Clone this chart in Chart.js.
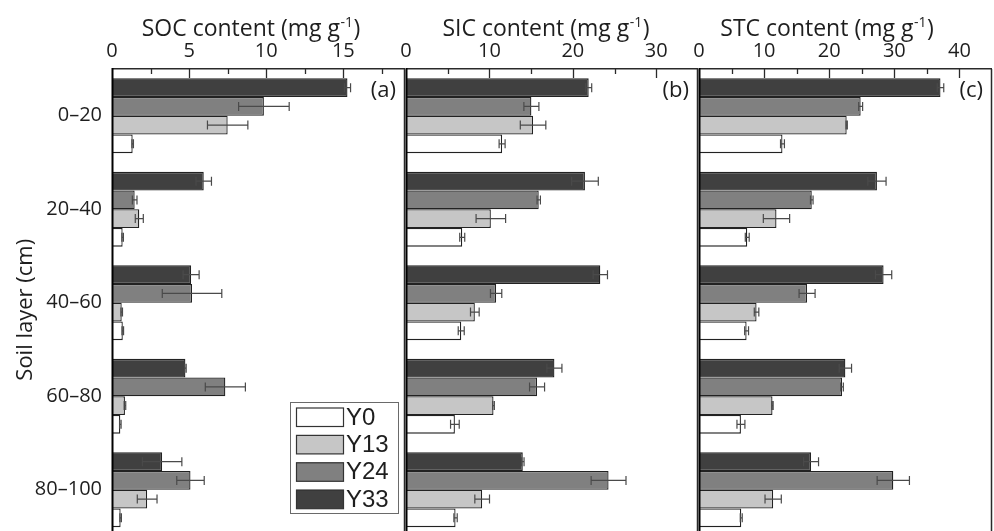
<!DOCTYPE html>
<html><head><meta charset="utf-8">
<script src="https://cdn.jsdelivr.net/npm/chart.js@4.4.1/dist/chart.umd.min.js"></script>
<style>
html,body{margin:0;padding:0;background:#fff;overflow:hidden;}
#wrap{position:relative;width:994px;height:531px;overflow:hidden;background:#fff;}
#wrap canvas{position:absolute;left:0;top:0;}
</style></head><body>
<div id="wrap">
<canvas id="ca" width="994" height="545"></canvas>
<canvas id="cb" width="994" height="545"></canvas>
<canvas id="cc" width="994" height="545"></canvas>
</div>
<script>
// ---- data ----
const layers = ['0–20','20–40','40–60','60–80','80–100'];
const seriesNames = ['Y0','Y13','Y24','Y33'];

const socY0  = [1.34, 0.69, 0.70, 0.54, 0.56];
const socY13 = [7.50, 1.77, 0.63, 0.84, 2.28];
const socY24 = [9.85, 1.47, 5.19, 7.35, 5.09];
const socY33 = [15.27, 5.95, 5.13, 4.76, 3.25];
const socErrY0  = [0.05, 0.05, 0.05, 0.05, 0.05];
const socErrY13 = [1.31, 0.26, 0.05, 0.05, 0.64];
const socErrY24 = [1.64, 0.15, 1.93, 1.30, 0.89];
const socErrY33 = [0.20, 0.50, 0.52, 0.05, 1.28];

const sicY0  = [11.52, 6.74, 6.62, 5.86, 5.94];
const sicY13 = [15.23, 10.17, 8.25, 10.49, 9.13];
const sicY24 = [15.03, 15.91, 10.80, 15.71, 24.28];
const sicY33 = [21.90, 21.45, 23.29, 17.79, 14.00];
const sicErrY0  = [0.36, 0.30, 0.36, 0.52, 0.20];
const sicErrY13 = [1.53, 1.77, 0.52, 0.10, 0.88];
const sicErrY24 = [0.90, 0.20, 0.68, 0.90, 2.09];
const sicErrY33 = [0.36, 1.60, 0.86, 0.90, 0.15];

const stcY0  = [12.82, 7.41, 7.31, 6.44, 6.49];
const stcY13 = [22.68, 11.90, 8.84, 11.29, 11.39];
const stcY24 = [24.83, 17.32, 16.60, 21.97, 29.84];
const stcY33 = [37.09, 27.33, 28.35, 22.48, 17.21];
const stcErrY0  = [0.30, 0.30, 0.30, 0.61, 0.15];
const stcErrY13 = [0.10, 2.02, 0.35, 0.10, 1.25];
const stcErrY24 = [0.30, 0.20, 1.23, 0.20, 2.48];
const stcErrY33 = [0.50, 1.40, 1.25, 0.95, 1.15];

const axisMax = [19, 35, 45];
const axisStep = [5, 10, 10];
const titleMain = ['SOC content (mg g', 'SIC content (mg g', 'STC content (mg g'];
const titleSup = '-1';
const titleTail = ')';
const panelTags = ['(a)', '(b)', '(c)'];
const yTitle = 'Soil layer (cm)';

// ---- style ----
const fills = ['#ffffff', '#c6c6c6', '#808080', '#404040'];
const TXT = '#1e1e1e';
const FONT = "'Open Sans', 'Noto Sans', sans-serif";
Chart.defaults.font.family = FONT;
Chart.defaults.color = TXT;

const framePlugin = {
  id: 'frame',
  afterDatasetsDraw(chart) {
    const ctx = chart.ctx, xs = chart.scales.x;
    chart.data.datasets.forEach((d, di) => {
      const meta = chart.getDatasetMeta(di);
      meta.data.forEach((bar, i) => {
        const v = d.data[i], e = d.err[i];
        const x1 = xs.getPixelForValue(v - e), x2 = xs.getPixelForValue(v + e), y = bar.y;
        ctx.save();
        ctx.strokeStyle = '#4a4a4a'; ctx.lineWidth = 1.2;
        ctx.beginPath();
        ctx.moveTo(x1, y); ctx.lineTo(x2, y);
        ctx.moveTo(x1, y - 4.5); ctx.lineTo(x1, y + 4.5);
        ctx.moveTo(x2, y - 4.5); ctx.lineTo(x2, y + 4.5);
        ctx.stroke();
        ctx.restore();
      });
    });
  },
  afterDraw(chart, args, o) {
    const ctx = chart.ctx, a = chart.chartArea, xs = chart.scales.x;
    ctx.save();
    // frame
    ctx.strokeStyle = '#2a2a2a'; ctx.lineWidth = 1.5;
    ctx.beginPath(); ctx.moveTo(a.left, a.top - 0.25); ctx.lineTo(a.right, a.top - 0.25); ctx.stroke();
    ctx.beginPath(); ctx.moveTo(a.right - 0.5, a.top); ctx.lineTo(a.right - 0.5, a.bottom + 20); ctx.stroke();
    ctx.strokeStyle = '#000'; ctx.lineWidth = 2;
    ctx.beginPath(); ctx.moveTo(a.left + 0.5, a.top - 1); ctx.lineTo(a.left + 0.5, a.bottom + 20); ctx.stroke();
    // inward ticks
    ctx.strokeStyle = '#2a2a2a'; ctx.lineWidth = 1.3;
    const majors = xs.ticks.map(t => t.value);
    majors.forEach((v, k) => {
      const px = Math.round(xs.getPixelForValue(v)) + 0.5;
      if (v > 0) { ctx.beginPath(); ctx.moveTo(px, a.top); ctx.lineTo(px, a.top + 9); ctx.stroke(); }
      const m = v + o.step / 2;
      if (m < xs.max - 1e-6) {
        const pm = Math.round(xs.getPixelForValue(m)) + 0.5;
        ctx.beginPath(); ctx.moveTo(pm, a.top); ctx.lineTo(pm, a.top + 5); ctx.stroke();
      }
    });
    // title with superscript
    ctx.fillStyle = TXT;
    ctx.textBaseline = 'alphabetic';
    ctx.textAlign = 'left';
    const mainF = "23px " + FONT, supF = "14px " + FONT;
    ctx.font = mainF; const w1 = ctx.measureText(o.main).width, w3 = ctx.measureText(titleTail).width;
    ctx.font = supF; const w2 = ctx.measureText(titleSup).width;
    const total = w1 + w2 + w3 + 1;
    let x = (a.left + a.right) / 2 + o.titleShift - total / 2;
    const base = 36;
    ctx.font = mainF; ctx.fillText(o.main, x, base); x += w1 + 0.5;
    ctx.font = supF; ctx.fillText(titleSup, x, base - 9); x += w2 + 0.5;
    ctx.font = mainF; ctx.fillText(titleTail, x, base);
    // panel tag
    ctx.font = "22px " + FONT; ctx.textAlign = 'right'; ctx.textBaseline = 'middle';
    ctx.fillText(o.tag, a.right - 9, a.top + 22);
    // y axis title (first panel only)
    if (o.yTitle) {
      ctx.save();
      ctx.translate(26, (a.top + a.bottom) / 2 + 7);
      ctx.rotate(-Math.PI / 2);
      ctx.font = "22px " + FONT; ctx.textAlign = 'center'; ctx.textBaseline = 'middle';
      ctx.fillStyle = TXT;
      ctx.fillText(o.yTitle, 0, 0);
      ctx.restore();
    }
    // legend
    if (o.legend) {
      const L = o.legend;
      ctx.strokeStyle = '#6a6a6a'; ctx.lineWidth = 1;
      ctx.fillStyle = '#fff';
      ctx.fillRect(L.x, L.y, L.w, L.h);
      ctx.strokeRect(L.x + 0.5, L.y + 0.5, L.w, L.h);
      const items = chart.data.datasets.slice().reverse();
      ctx.font = "24px 'Liberation Sans', Arial, sans-serif";
      ctx.textAlign = 'left'; ctx.textBaseline = 'middle';
      items.forEach((d, k) => {
        const sy = L.y + 5.5 + k * 27.4;
        ctx.fillStyle = d.backgroundColor;
        ctx.fillRect(L.x + 6, sy, 48, 19);
        ctx.strokeStyle = '#333'; ctx.lineWidth = 1.2;
        ctx.strokeRect(L.x + 6.5, sy + 0.5, 47, 18.5);
        ctx.fillStyle = TXT;
        ctx.fillText(d.label, L.x + 56, sy + 10.5);
      });
    }
    ctx.restore();
  }
};

function makeChart(id, k, vals, errs, padL, padR, isFirst, extra) {
  const order = [3, 2, 1, 0];
  const datasets = order.map(i => ({
    label: seriesNames[i],
    data: vals[i],
    err: errs[i],
    backgroundColor: fills[i],
    borderColor: '#222222',
    borderWidth: 1.3,
    categoryPercentage: 0.8,
    barPercentage: 1.0
  }));
  return new Chart(document.getElementById(id), {
    type: 'bar',
    data: { labels: layers, datasets },
    plugins: [framePlugin],
    options: {
      indexAxis: 'y',
      responsive: false,
      animation: false,
      layout: { padding: { left: padL, right: padR, top: 0, bottom: 8.5 } },
      scales: {
        x: {
          type: 'linear', position: 'top', min: 0, max: axisMax[k],
          grid: { display: false, drawTicks: false },
          border: { display: false },
          ticks: { stepSize: axisStep[k], includeBounds: false, font: { size: 20 }, color: TXT, padding: 6, maxRotation: 0 },
          afterFit(s) { s.height = 69; s.paddingLeft = 0; s.paddingRight = 0; }
        },
        y: {
          display: isFirst,
          grid: { display: false, drawTicks: false },
          border: { display: false },
          ticks: { font: { size: 20 }, color: TXT, padding: 10 },
          title: { display: false, text: yTitle },
          afterFit(s) { s.width = isFirst ? 112 : 0; s.paddingTop = 0; s.paddingBottom = 0; }
        }
      },
      plugins: {
        legend: { display: false },
        tooltip: { enabled: false },
        frame: Object.assign({ step: axisStep[k], main: titleMain[k], tag: panelTags[k] }, extra)
      }
    }
  });
}

makeChart('ca', 0, [socY0, socY13, socY24, socY33], [socErrY0, socErrY13, socErrY24, socErrY33], 0, 589, true,
  { titleShift: -7.5, yTitle: yTitle, legend: { x: 290, y: 402, w: 108, h: 111 } });
makeChart('cb', 1, [sicY0, sicY13, sicY24, sicY33], [sicErrY0, sicErrY13, sicErrY24, sicErrY33], 406, 296, false,
  { titleShift: -6 });
makeChart('cc', 2, [stcY0, stcY13, stcY24, stcY33], [stcErrY0, stcErrY13, stcErrY24, stcErrY33], 699, 2, false,
  { titleShift: -18.5 });
</script>
</body></html>
